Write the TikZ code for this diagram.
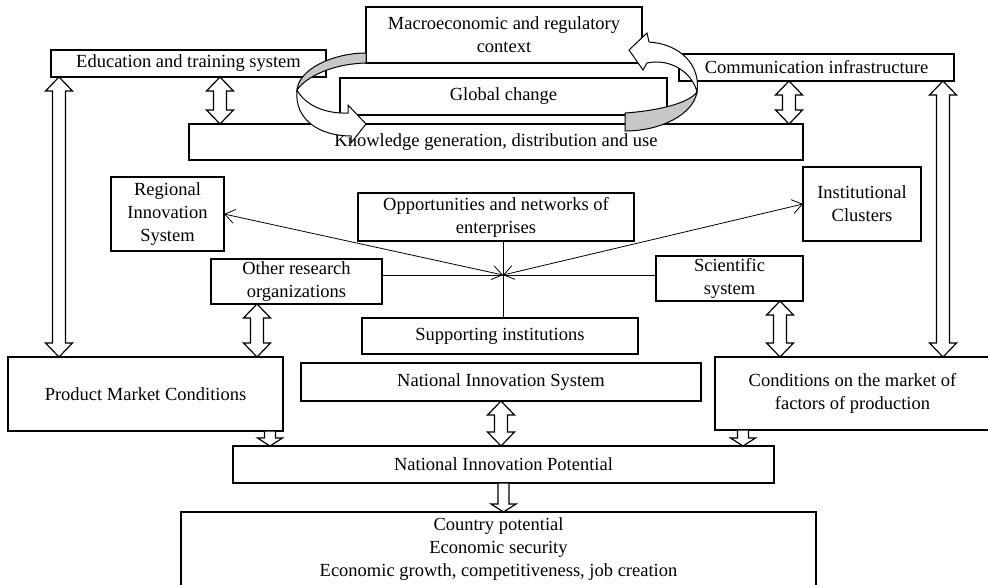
\documentclass[tikz,border=0pt]{standalone}
\usepackage{fontspec}
\setmainfont{Liberation Serif}
\usetikzlibrary{arrows.meta,calc}
\newcommand{\shaftw}{3.25pt}
\newcommand{\headw}{6.75pt}
\newcommand{\headl}{7pt}
\newcommand{\sshaftw}{2.75pt}
\newcommand{\sheadw}{6.25pt}
\newcommand{\sheadl}{4pt}
\newcommand{\dblarrow}[2]{%
  \draw[blockarrow] let \p1=(#1), \p2=(#2) in
    (\x1,\y1) -- (\x1+\headw,\y1-\headl) -- (\x1+\shaftw,\y1-\headl)
    -- (\x1+\shaftw,\y2+\headl) -- (\x1+\headw,\y2+\headl) -- (\x1,\y2)
    -- (\x1-\headw,\y2+\headl) -- (\x1-\shaftw,\y2+\headl)
    -- (\x1-\shaftw,\y1-\headl) -- (\x1-\headw,\y1-\headl) -- cycle;}
\newcommand{\sglarrow}[2]{%
  \draw[blockarrow] let \p1=(#1), \p2=(#2) in
    (\x1-\sshaftw,\y1) -- (\x1+\sshaftw,\y1) -- (\x1+\sshaftw,\y2+\sheadl)
    -- (\x1+\sheadw,\y2+\sheadl) -- (\x1,\y2) -- (\x1-\sheadw,\y2+\sheadl)
    -- (\x1-\sshaftw,\y2+\sheadl) -- cycle;}
\tikzset{
  box/.style={draw, line width=0.75pt, fill=white, inner sep=0pt, outer sep=0pt,
              align=center, font=\fontsize{9.25pt}{11.5pt}\selectfont},
  blockarrow/.style={draw, fill=white, line width=0.6pt},
  link/.style={{Straight Barb[length=5pt,width=7pt]}-{Straight Barb[length=5pt,width=7pt]},
               line width=0.4pt},
  plain/.style={line width=0.4pt},
  ribbon/.style={draw, fill=white, line width=0.5pt},
  ribbonshade/.style={ribbon, fill=black!22},
}

\begin{document}
\begin{tikzpicture}[x=0.5pt, y=-0.5pt]
  \useasboundingbox (0,0) rectangle (988,584);
  \node[box, minimum width=138pt, minimum height=28pt] (macro) at (504,35) {Macroeconomic and regulatory\\context};
  \node[box, minimum width=137.5pt, minimum height=13.5pt] (edu) at (188.5,63.5) {Education and training system};
  \node[box, minimum width=137.5pt, minimum height=13.5pt] (comm) at (816.5,67.5) {Communication infrastructure};
  \node[box, minimum width=163.5pt, minimum height=18.5pt] (glob) at (503.5,96.5) {Global change};
  \node[box, minimum width=307pt, minimum height=18pt] (know) at (496,142) {Knowledge generation, distribution and use};
  \node[box, minimum width=56.5pt, minimum height=37pt] (reg) at (167.5,214) {Regional\\Innovation\\System};
  \node[box, minimum width=138pt, minimum height=24pt] (opp) at (496,217) {Opportunities and networks of\\enterprises};
  \node[box, minimum width=59pt, minimum height=37pt] (clu) at (862,204) {Institutional\\Clusters};
  \node[box, minimum width=85.5pt, minimum height=22.5pt] (oth) at (296.5,281.5) {Other research\\organizations};
  \node[box, minimum width=73.5pt, minimum height=22.5pt] (sci) at (729.5,278.5) {Scientific\\system};
  \node[box, minimum width=138pt, minimum height=18pt] (sup) at (500,336) {Supporting institutions};
  \node[box, minimum width=200pt, minimum height=19pt] (nis) at (501,382) {National Innovation System};
  \node[box, minimum width=137.5pt, minimum height=37pt] (pmc) at (145.5,394) {Product Market Conditions};
  \node[box, minimum width=137.5pt, minimum height=36.5pt] (cond) at (852.5,393.5) {Conditions on the market of\\factors of production};
  \node[box, minimum width=270.5pt, minimum height=18.5pt] (nip) at (503.5,464.5) {National Innovation Potential};
  \node[box, minimum width=317.5pt, minimum height=37.5pt] (cty) at (498.5,549.5) {Country potential\\Economic security\\Economic growth, competitiveness, job creation};

  \coordinate (hub) at (503,275);
  \draw[plain] (hub |- opp.south) -- (hub |- sup.north);
  \draw[plain] (oth.east |- hub) -- (sci.west |- hub);
  \draw[link] (reg.east) -- (hub);
  \draw[link] (clu.west) -- (hub);

  \dblarrow{[xshift=15.75pt]edu.south}{know.north}
  \dblarrow{[xshift=-13.75pt]comm.south}{know.north}
  \dblarrow{[xshift=-64.75pt]edu.south}{pmc.north}
  \dblarrow{[xshift=63.25pt]comm.south}{cond.north}
  \dblarrow{[xshift=-19.75pt]oth.south}{pmc.north}
  \dblarrow{[xshift=25.25pt]sci.south}{cond.north}
  \dblarrow{nis.south}{nip.north}
  \sglarrow{[xshift=62.25pt]pmc.south}{nip.north}
  \sglarrow{[xshift=-54.75pt]cond.south}{nip.north}
  \sglarrow{nip.south}{cty.north}

  \draw[ribbonshade] (366,53) .. controls (335,53) and (299,68) .. (297,90)
    .. controls (305,78) and (330,64) .. (366,63) -- cycle;
  \draw[ribbon] (297,90) .. controls (294,120) and (320,136) .. (351,136) -- (351,143)
    -- (366,124) -- (348,105) -- (348,113) .. controls (325,114) and (305,105) .. (297,90) -- cycle;
  \draw[ribbonshade] (625,113) .. controls (655,111) and (688,104) .. (697,92)
    .. controls (693,115) and (660,131) .. (625,131) -- cycle;
  \draw[ribbon] (697,92) .. controls (701,65) and (680,44) .. (649,42) -- (647,33)
    -- (629,50) -- (643,70) -- (647,63) .. controls (670,58) and (692,72) .. (697,92) -- cycle;
\end{tikzpicture}
\end{document}
